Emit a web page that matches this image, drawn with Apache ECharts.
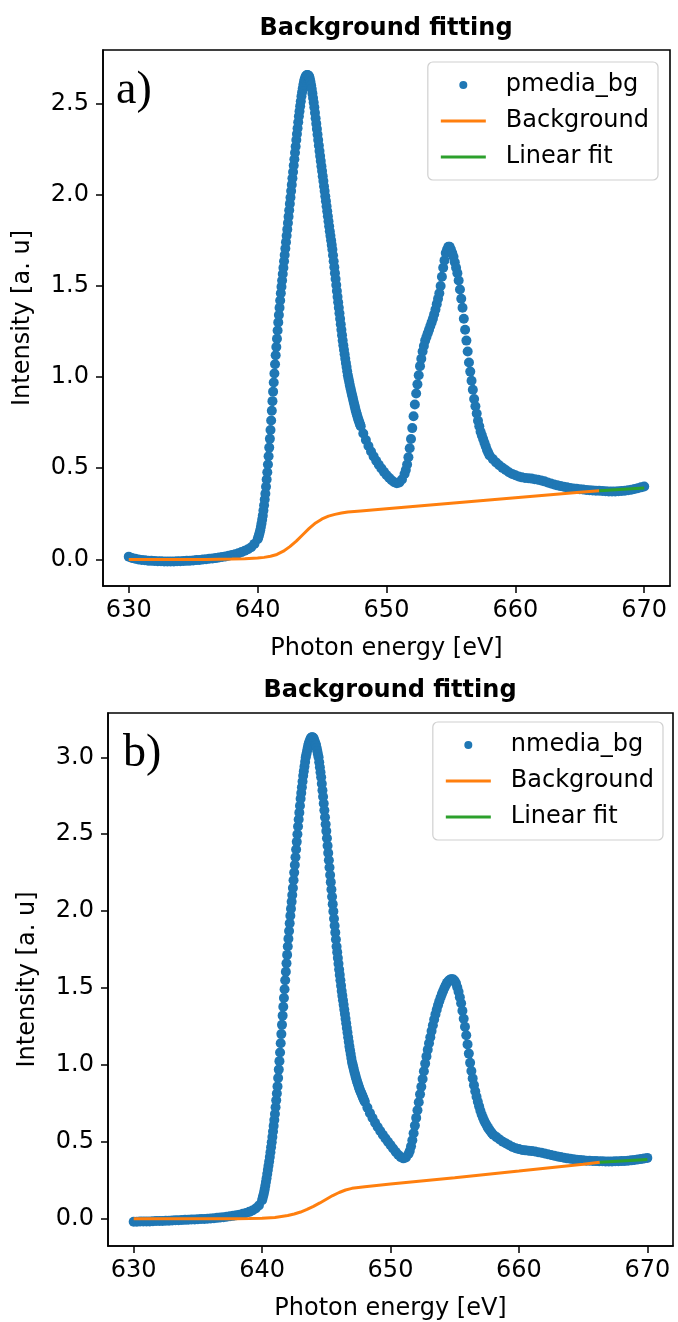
<!DOCTYPE html>
<html>
<head>
<meta charset="utf-8">
<script src="https://cdn.jsdelivr.net/npm/echarts@6/dist/echarts.min.js"></script>
<style>
html,body{margin:0;padding:0;background:#fff;}
#chart{width:678px;height:1322px;}
</style>
</head>
<body>
<div id="chart"></div>
<script>
// ---------- x grid segments (photon energy, eV): [start, step, count] ----------
const energySegments = [
  [630.0, 0.25, 40],
  [640.0, 0.05, 160],
  [648.0, 0.2, 18],
  [651.5, 0.1, 65],
  [658.0, 0.25, 49]
];

// ---------- panel a) pmedia_bg, one array per segment ----------
const pmedia_s1 = [0.015,0.008,0.003,0.000,-0.003,-0.005,-0.007,-0.008,-0.009,-0.010,-0.010,-0.011,-0.011,-0.011,-0.011,-0.010,-0.010,-0.009,-0.008,-0.007,
  -0.006,-0.004,-0.003,-0.001,0.001,0.003,0.005,0.007,0.010,0.013,0.016,0.020,0.024,0.028,0.033,0.040,0.047,0.056,0.067,0.085];
const pmedia_s2 = [
  0.110,0.120,0.132,0.145,0.160,0.178,0.197,0.218,0.240,0.268,0.297,0.328,0.360,0.398,0.438,0.478,0.520,0.566,0.613,0.661,
  0.710,0.762,0.815,0.868,0.920,0.970,1.020,1.070,1.120,1.165,1.210,1.255,1.300,1.340,1.380,1.420,1.460,1.495,1.530,1.565,
  1.600,1.635,1.670,1.705,1.740,1.775,1.810,1.845,1.880,1.915,1.950,1.985,2.020,2.055,2.090,2.125,2.160,2.195,2.230,2.265,
  2.300,2.333,2.365,2.398,2.430,2.458,2.486,2.513,2.540,2.562,2.583,2.603,2.620,2.633,2.644,2.651,2.655,2.657,2.656,2.653,
  2.648,2.636,2.620,2.601,2.580,2.556,2.531,2.506,2.480,2.450,2.420,2.390,2.360,2.330,2.300,2.270,2.240,2.212,2.185,2.157,
  2.130,2.102,2.075,2.047,2.020,1.992,1.965,1.937,1.910,1.882,1.855,1.827,1.800,1.775,1.750,1.725,1.700,1.668,1.635,1.603,
  1.570,1.538,1.505,1.472,1.440,1.410,1.380,1.350,1.320,1.290,1.260,1.230,1.200,1.175,1.150,1.125,1.100,1.077,1.055,1.032,
  1.010,0.992,0.975,0.957,0.940,0.925,0.910,0.895,0.880,0.865,0.850,0.835,0.820,0.807,0.795,0.782,0.770,0.760,0.750,0.740];
const pmedia_s3 = [0.730,0.690,0.655,0.622,0.592,0.565,0.541,0.519,0.499,0.480,0.463,0.448,0.434,0.423,0.418,0.422,0.438,0.468];
const pmedia_s4 = [
  0.490,0.520,0.560,0.610,0.660,0.720,0.785,0.850,0.910,0.960,
  1.010,1.060,1.100,1.140,1.170,1.200,1.220,1.240,1.260,1.280,
  1.300,1.320,1.345,1.370,1.400,1.430,1.460,1.500,1.550,1.600,
  1.640,1.680,1.700,1.715,1.715,1.700,1.680,1.660,1.630,1.600,
  1.570,1.530,1.480,1.430,1.380,1.320,1.260,1.200,1.140,1.080,
  1.030,0.980,0.930,0.880,0.840,0.800,0.760,0.730,0.700,0.680,
  0.660,0.640,0.620,0.600,0.585];
const pmedia_s5 = [
  0.570,0.550,0.532,0.516,0.502,0.490,0.478,0.469,0.461,0.455,0.450,0.447,
  0.445,0.443,0.440,0.437,0.433,0.428,0.422,0.416,0.411,0.406,0.402,0.398,
  0.395,0.392,0.389,0.387,0.385,0.383,0.381,0.379,0.378,0.377,0.376,0.375,
  0.374,0.373,0.373,0.373,0.374,0.375,0.377,0.379,0.382,0.386,0.390,0.395,
  0.400];

// ---------- panel b) nmedia_bg ----------
const nmedia_s1 = [-0.020,-0.020,-0.019,-0.019,-0.018,-0.018,-0.017,-0.016,-0.016,-0.015,-0.014,-0.013,-0.012,-0.011,-0.010,-0.009,-0.008,-0.007,-0.006,-0.005,
  -0.004,-0.003,-0.002,0.000,0.001,0.003,0.005,0.007,0.009,0.012,0.015,0.018,0.022,0.026,0.031,0.037,0.044,0.053,0.066,0.085];
const nmedia_s2 = [
  0.120,0.135,0.152,0.170,0.190,0.213,0.238,0.263,0.290,0.317,0.344,0.372,0.400,0.432,0.464,0.497,0.530,0.566,0.603,0.641,
  0.680,0.724,0.769,0.814,0.860,0.914,0.969,1.024,1.080,1.140,1.200,1.260,1.320,1.378,1.435,1.492,1.550,1.605,1.660,1.715,
  1.770,1.820,1.870,1.920,1.970,2.015,2.060,2.105,2.150,2.200,2.250,2.300,2.350,2.400,2.450,2.500,2.550,2.595,2.640,2.685,
  2.730,2.768,2.805,2.843,2.880,2.910,2.940,2.970,3.000,3.020,3.040,3.060,3.080,3.092,3.104,3.115,3.125,3.129,3.131,3.129,
  3.125,3.114,3.103,3.091,3.080,3.060,3.040,3.020,3.000,2.968,2.935,2.903,2.870,2.828,2.785,2.743,2.700,2.655,2.610,2.565,
  2.520,2.473,2.425,2.378,2.330,2.283,2.235,2.188,2.140,2.093,2.045,1.998,1.950,1.905,1.860,1.815,1.770,1.733,1.695,1.658,
  1.620,1.585,1.550,1.515,1.480,1.450,1.420,1.390,1.360,1.330,1.300,1.270,1.240,1.210,1.180,1.150,1.120,1.095,1.070,1.045,
  1.020,1.003,0.985,0.968,0.950,0.935,0.920,0.905,0.890,0.878,0.865,0.853,0.840,0.830,0.820,0.810,0.800,0.790,0.780,0.770];
const nmedia_s3 = [0.760,0.722,0.686,0.654,0.624,0.596,0.570,0.545,0.522,0.500,0.478,0.456,0.435,0.415,0.400,0.392,0.398,0.420];
const nmedia_s4 = [
  0.440,0.470,0.510,0.555,0.605,0.655,0.705,0.757,0.808,0.858,
  0.908,0.958,1.008,1.055,1.098,1.140,1.180,1.220,1.258,1.295,
  1.328,1.358,1.387,1.414,1.438,1.460,1.480,1.500,1.518,1.533,
  1.544,1.552,1.556,1.557,1.555,1.545,1.530,1.505,1.475,1.440,
  1.400,1.352,1.300,1.248,1.192,1.133,1.073,1.013,0.960,0.912,
  0.868,0.828,0.792,0.760,0.730,0.702,0.677,0.656,0.637,0.620,
  0.605,0.590,0.578,0.566,0.555];
const nmedia_s5 = [
  0.545,0.530,0.515,0.500,0.488,0.477,0.466,0.458,0.452,0.447,0.444,0.441,
  0.439,0.436,0.432,0.428,0.424,0.419,0.414,0.409,0.404,0.400,0.396,0.392,
  0.389,0.386,0.383,0.381,0.379,0.377,0.376,0.375,0.374,0.373,0.373,0.372,
  0.372,0.372,0.373,0.373,0.374,0.375,0.377,0.379,0.381,0.384,0.387,0.391,
  0.395];

// ---------- background curves ----------
const bgA_energy = [630,632,634,636,637,638,639,640,640.5,641,641.5,642,642.5,643,643.5,644,644.5,645,645.5,646,646.5,647,648,650,655,660,665,666.5];
const bgA_value  = [0,0,0,0,0.001,0.002,0.004,0.007,0.011,0.017,0.027,0.045,0.070,0.100,0.135,0.170,0.200,0.222,0.237,0.247,0.254,0.260,0.266,0.278,0.308,0.338,0.368,0.377];
const bgB_energy = [630,632,634,636,638,639,640,641,642,642.5,643,643.5,644,644.5,645,645.5,646,646.5,647,648,650,655,660,665,666.3];
const bgB_value  = [0,0,0,0,0,0.001,0.003,0.008,0.020,0.030,0.043,0.060,0.080,0.102,0.126,0.150,0.170,0.186,0.197,0.208,0.225,0.266,0.309,0.353,0.366];

// ---------- linear fits ----------
const fitA_energy = [666.5, 670.0];
const fitA_value  = [0.377, 0.392];
const fitB_energy = [666.3, 670.0];
const fitB_value  = [0.366, 0.385];

// ---------- ticks ----------
const xTicks = [630, 640, 650, 660, 670];
const yTicksA = [0, 0.5, 1.0, 1.5, 2.0, 2.5];
const yTicksB = [0, 0.5, 1.0, 1.5, 2.0, 2.5, 3.0];

// ---------- build ----------
function energyGrid() {
  const out = [];
  energySegments.forEach(([s, st, n]) => {
    for (let i = 0; i < n; i++) out.push(+(s + i * st).toFixed(3));
  });
  return out;
}
const energies = energyGrid();
const pmedia = [].concat(pmedia_s1, pmedia_s2, pmedia_s3, pmedia_s4, pmedia_s5);
const nmedia = [].concat(nmedia_s1, nmedia_s2, nmedia_s3, nmedia_s4, nmedia_s5);
const zip = (xs, ys) => xs.map((x, i) => [x, ys[i]]).filter(p => p[1] !== undefined);

const FONT = 'DejaVu Sans';
const FS = 24;
const C_BLUE = '#1f77b4', C_ORANGE = '#ff7f0e', C_GREEN = '#2ca02c';
const LINE_ICON = 'path://M0,0H45V3H0Z';

function xAxisCfg(gridIndex) {
  return {
    type: 'value', gridIndex, min: 628, max: 672,
    splitLine: {show: false},
    axisLine: {show: true, onZero: false, lineStyle: {color: '#000', width: 1.6}},
    axisTick: {show: true, inside: false, length: 7, lineStyle: {color: '#000', width: 1.5}, customValues: xTicks},
    axisLabel: {show: true, margin: 13, fontFamily: FONT, fontSize: FS, color: '#000', customValues: xTicks},
    name: 'Photon energy [eV]', nameLocation: 'middle', nameGap: 51,
    nameTextStyle: {fontFamily: FONT, fontSize: FS, color: '#000'}
  };
}
function yAxisCfg(gridIndex, min, max, ticks) {
  return {
    type: 'value', gridIndex, min, max,
    splitLine: {show: false},
    axisLine: {show: true, onZero: false, lineStyle: {color: '#000', width: 1.6}},
    axisTick: {show: true, inside: false, length: 7, lineStyle: {color: '#000', width: 1.5}, customValues: ticks},
    axisLabel: {show: true, margin: 14, fontFamily: FONT, fontSize: FS, color: '#000', customValues: ticks,
      formatter: v => Number(v).toFixed(1)},
    name: 'Intensity [a. u]', nameLocation: 'middle', nameGap: 68,
    nameTextStyle: {fontFamily: FONT, fontSize: FS, color: '#000'}
  };
}
function legendCfg(name, right, top) {
  return {
    orient: 'vertical', right, top,
    data: [{name: name, icon: 'circle'}, {name: 'Background', icon: LINE_ICON}, {name: 'Linear fit', icon: LINE_ICON}],
    itemWidth: 45, itemHeight: 8, itemGap: 10,
    padding: [10, 9, 10, 13],
    borderColor: '#d0d0d0', borderWidth: 1.2, borderRadius: 5,
    backgroundColor: 'rgba(255,255,255,0.85)',
    selectedMode: false,
    textStyle: {fontFamily: FONT, fontSize: FS, color: '#000', lineHeight: 26, padding: [0, 0, 0, 15]}
  };
}
const titleStyle = {fontFamily: FONT, fontWeight: 'bold', fontSize: FS, color: '#000'};
const panelStyle = {fontFamily: 'Liberation Serif', fontWeight: 'normal', fontSize: 46, color: '#000'};

const chart = echarts.init(document.getElementById('chart'), null, {renderer: 'canvas', width: 678, height: 1322});
chart.setOption({
  animation: false,
  backgroundColor: '#fff',
  title: [
    {text: 'Background fitting', left: 386, top: 17, textAlign: 'center', padding: 0, textStyle: titleStyle},
    {text: 'Background fitting', left: 390, top: 679, textAlign: 'center', padding: 0, textStyle: titleStyle},
    {text: 'a)', left: 116, top: 68, padding: 0, textStyle: panelStyle},
    {text: 'b)', left: 123, top: 731, padding: 0, textStyle: panelStyle}
  ],
  grid: [
    {left: 103, width: 567, top: 50, height: 536, show: true, borderColor: '#000', borderWidth: 1.6, backgroundColor: 'transparent'},
    {left: 108, width: 565, top: 713, height: 534, show: true, borderColor: '#000', borderWidth: 1.6, backgroundColor: 'transparent'}
  ],
  xAxis: [xAxisCfg(0), xAxisCfg(1)],
  yAxis: [yAxisCfg(0, -0.146, 2.794, yTicksA), yAxisCfg(1, -0.178, 3.288, yTicksB)],
  legend: [legendCfg('pmedia_bg', 20, 62), legendCfg('nmedia_bg', 15, 722)],
  series: [
    {name: 'pmedia_bg', type: 'scatter', xAxisIndex: 0, yAxisIndex: 0, data: zip(energies, pmedia),
      symbol: 'circle', symbolSize: 10, itemStyle: {color: C_BLUE, opacity: 1}, z: 2},
    {name: 'Background', type: 'line', xAxisIndex: 0, yAxisIndex: 0, data: zip(bgA_energy, bgA_value),
      showSymbol: false, symbol: 'none', smooth: false, lineStyle: {color: C_ORANGE, width: 3}, itemStyle: {color: C_ORANGE}, z: 3},
    {name: 'Linear fit', type: 'line', xAxisIndex: 0, yAxisIndex: 0, data: zip(fitA_energy, fitA_value),
      showSymbol: false, symbol: 'none', lineStyle: {color: C_GREEN, width: 3}, itemStyle: {color: C_GREEN}, z: 4},
    {name: 'nmedia_bg', type: 'scatter', xAxisIndex: 1, yAxisIndex: 1, data: zip(energies, nmedia),
      symbol: 'circle', symbolSize: 10, itemStyle: {color: C_BLUE, opacity: 1}, z: 2},
    {name: 'Background', type: 'line', xAxisIndex: 1, yAxisIndex: 1, data: zip(bgB_energy, bgB_value),
      showSymbol: false, symbol: 'none', smooth: false, lineStyle: {color: C_ORANGE, width: 3}, itemStyle: {color: C_ORANGE}, z: 3},
    {name: 'Linear fit', type: 'line', xAxisIndex: 1, yAxisIndex: 1, data: zip(fitB_energy, fitB_value),
      showSymbol: false, symbol: 'none', lineStyle: {color: C_GREEN, width: 3}, itemStyle: {color: C_GREEN}, z: 4}
  ]
});
</script>
</body>
</html>
